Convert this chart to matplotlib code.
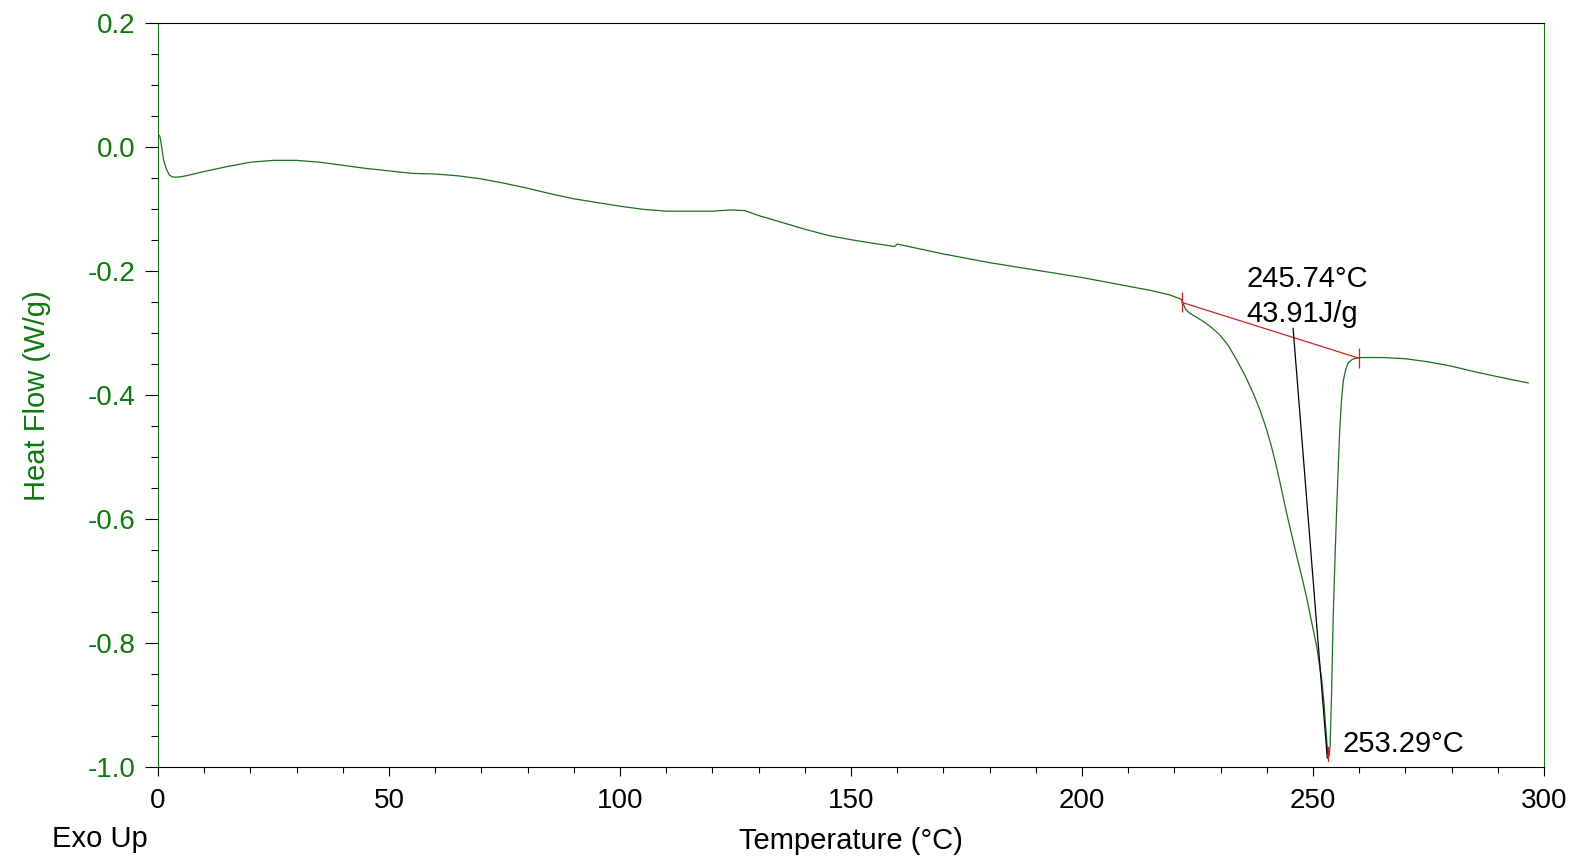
import matplotlib.pyplot as plt
from matplotlib.ticker import MultipleLocator

# DSC trace
temperature = [0.0, 0.4, 0.8, 1.2, 1.8, 2.5, 3.2, 4.5, 6, 10, 15, 20, 25, 30, 35, 40,
               45, 50, 55, 60, 65, 70, 75, 80, 85, 90, 95, 100, 105, 110, 115, 120,
               124, 127, 130, 135, 140, 145, 150, 155, 159.5, 160.0, 165, 170, 175,
               180, 185, 190, 195, 200, 205, 210, 215, 219, 221.5, 221.9, 222.5, 223.4,
               224.8, 226.3, 228.1, 229.9, 231.7, 233.5, 235.3, 237.1, 238.6, 240.0,
               241.1, 242.1, 243.2, 244.3, 245.4, 246.5, 247.6, 248.6, 249.7, 250.8,
               251.9, 252.4, 252.8, 253.2, 253.5, 253.7, 254.0, 254.4, 254.75, 255.1,
               255.45, 255.8, 256.2, 256.6, 257.1, 257.6, 258.5, 259.4, 260.5, 262.3,
               265, 270, 275, 280, 285, 290, 296.6]
heat_flow = [0.021, 0.018, 0.0, -0.02, -0.035, -0.045, -0.048, -0.048, -0.046, -0.039,
             -0.031, -0.024, -0.021, -0.021, -0.024, -0.029, -0.034, -0.038, -0.042,
             -0.043, -0.046, -0.051, -0.058, -0.066, -0.075, -0.083, -0.089, -0.095,
             -0.100, -0.103, -0.103, -0.103, -0.101, -0.102, -0.110, -0.121, -0.132,
             -0.142, -0.149, -0.155, -0.160, -0.156, -0.164, -0.172, -0.179, -0.186,
             -0.192, -0.198, -0.204, -0.210, -0.217, -0.224, -0.231, -0.238, -0.245,
             -0.252, -0.262, -0.268, -0.274, -0.281, -0.291, -0.303, -0.320, -0.343,
             -0.368, -0.397, -0.425, -0.456, -0.485, -0.515, -0.552, -0.590, -0.625,
             -0.660, -0.693, -0.725, -0.765, -0.805, -0.859, -0.897, -0.940, -0.977,
             -0.982, -0.967, -0.890, -0.752, -0.668, -0.590, -0.520, -0.456, -0.405,
             -0.375, -0.358, -0.348, -0.342, -0.340, -0.339, -0.339, -0.339, -0.341,
             -0.346, -0.353, -0.362, -0.370, -0.380]

# integration baseline and peak marker
baseline_x = [221.6, 259.9]
baseline_y = [-0.250, -0.340]
peak_line_x = [245.7, 253.1]
peak_line_y = [-0.292, -0.985]
peak_temp = 253.29
peak_tick_y = [-0.968, -0.99]

onset_lines = ["245.74°C", "43.91J/g"]
onset_y = [-0.2248, -0.2813]
peak_label = "253.29°C"

green = '#0b7a0b'
line_green = '#1c6e1c'

plt.rcParams['font.family'] = ['Liberation Sans', 'DejaVu Sans']

fig = plt.figure(figsize=(15.85, 8.58), dpi=100)
ax = fig.add_axes([0.0997, 0.1057, 0.8744, 0.8671])

ax.plot(temperature, heat_flow, color=line_green, lw=0.9)
ax.plot(baseline_x, baseline_y, color='#d02020', lw=0.9)
ax.plot(baseline_x, baseline_y, ls='none', marker='|', ms=14, mew=0.9, color='#d02020')
ax.plot([peak_temp, peak_temp], peak_tick_y, color='#d02020', lw=0.9)
ax.plot(peak_line_x, peak_line_y, color='black', lw=0.9)

for txt, yy in zip(onset_lines, onset_y):
    ax.text(235.6, yy, txt, fontsize=21, va='baseline', ha='left')
ax.text(256.4, -0.975, peak_label, fontsize=21, va='baseline', ha='left')

ax.set_xlim(0, 300)
ax.set_ylim(-1.0, 0.2)
ax.xaxis.set_major_locator(MultipleLocator(50))
ax.xaxis.set_minor_locator(MultipleLocator(10))
ax.yaxis.set_major_locator(MultipleLocator(0.2))
ax.yaxis.set_minor_locator(MultipleLocator(0.05))
ax.yaxis.set_major_formatter(plt.FuncFormatter(lambda v, p: '%.1f' % v))

ax.tick_params(axis='x', which='major', direction='out', length=6.5, width=0.8,
               labelsize=20, pad=8.5, colors='black')
ax.tick_params(axis='x', which='minor', direction='out', length=4, width=0.8)
ax.tick_params(axis='y', which='major', direction='out', length=9.4, width=0.8,
               labelsize=20, pad=7, color='black', labelcolor=green)
ax.tick_params(axis='y', which='minor', direction='out', length=4.7, width=0.8,
               color='black')

for side in ['left', 'right']:
    ax.spines[side].set_color(green)
for side in ['top', 'bottom']:
    ax.spines[side].set_color('black')
for s in ax.spines.values():
    s.set_linewidth(0.8)

ax.set_ylabel('Heat Flow (W/g)', fontsize=21, color=green, labelpad=26)
ax.set_xlabel('Temperature (°C)', fontsize=21, labelpad=9)
fig.text(51.7 / 1585, 1 - 846.7 / 858, 'Exo Up', fontsize=21, va='baseline', ha='left')

fig.savefig('out.png', dpi=100)
